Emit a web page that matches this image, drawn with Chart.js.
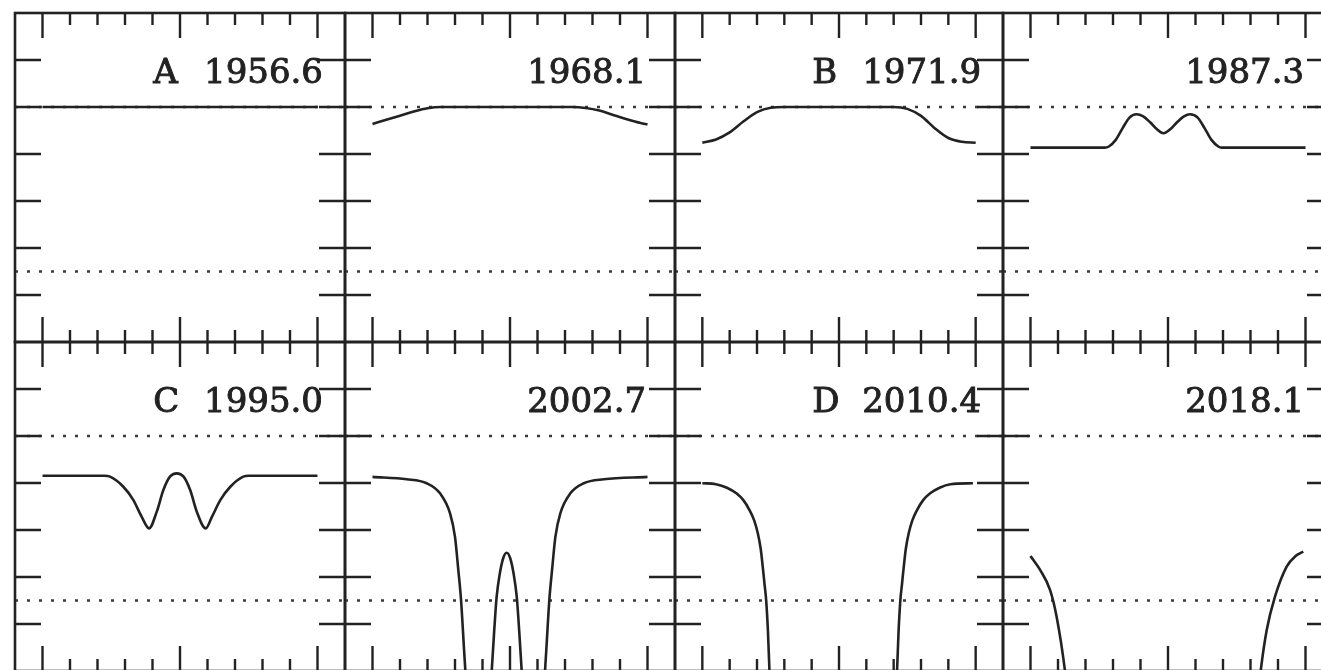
<!DOCTYPE html>
<html>
<head>
<meta charset="utf-8">
<script src="https://cdn.jsdelivr.net/npm/chart.js@4"></script>
<style>
  html, body { margin: 0; padding: 0; background: #fff; overflow: hidden; }
  #wrap { position: relative; width: 1321px; height: 670px; overflow: hidden; background: #fff; }
  #wrap canvas { position: absolute; }
</style>
</head>
<body>
<div id="wrap"></div>
<script>
// tick marks and dotted reference levels (same on every panel)
const xMajor = [-1, 0, 1];
const xMinor = [-0.8, -0.6, -0.4, -0.2, 0.2, 0.4, 0.6, 0.8];
const yTicks = [0.2, 0.4, 0.6, 0.8, 1.0, 1.2];
const refLevels = [1.0, 0.3];

const letters = ['A', '', 'B', '', 'C', '', 'D', ''];
const years = ['1956.6', '1968.1', '1971.9', '1987.3', '1995.0', '2002.7', '2010.4', '2018.1'];

// curves (null = curve leaves the panel)
const x1956 = [-1.0, -0.5, 0.0, 0.5, 1.0];
const y1956 = [1.0, 1.0, 1.0, 1.0, 1.0];

const x1968 = [-1.0, -0.9, -0.8, -0.7, -0.6, -0.5, 0.0, 0.45, 0.55, 0.65, 0.75, 0.85, 0.95, 1.0];
const y1968 = [0.928, 0.946, 0.963, 0.981, 0.995, 1.0, 1.0, 1.0, 0.996, 0.985, 0.966, 0.948, 0.932, 0.926];

const x1971 = [-1.0, -0.9, -0.8, -0.7, -0.6, -0.5, -0.4, 0.0, 0.4, 0.5, 0.6, 0.7, 0.8, 0.9, 1.0];
const y1971 = [0.848, 0.862, 0.892, 0.938, 0.978, 0.997, 1.0, 1.0, 1.0, 0.992, 0.962, 0.91, 0.868, 0.852, 0.848];

const x1987 = [-1.0, -0.46, -0.43, -0.38, -0.33, -0.28, -0.23, -0.18, -0.13, -0.08, -0.034, 0.016, 0.066, 0.116, 0.16, 0.216, 0.266, 0.316, 0.366, 0.39, 1.0];
const y1987 = [0.827, 0.827, 0.832, 0.86, 0.91, 0.955, 0.969, 0.96, 0.935, 0.905, 0.888, 0.905, 0.935, 0.96, 0.969, 0.955, 0.91, 0.86, 0.832, 0.827, 0.827];

const x1995 = [-1.0, -0.55, -0.509, -0.412, -0.34, -0.279, -0.225, -0.169, -0.121, -0.073, -0.024, 0.026, 0.074, 0.122, 0.187, 0.233, 0.294, 0.366, 0.46, 0.5, 1.0];
const y1995 = [0.831, 0.831, 0.827, 0.784, 0.728, 0.657, 0.607, 0.678, 0.77, 0.827, 0.841, 0.827, 0.77, 0.678, 0.607, 0.657, 0.728, 0.784, 0.827, 0.831, 0.831];

const x2002 = [-1.0, -0.752, -0.606, -0.509, -0.436, -0.4, -0.376, -0.356, -0.334, -0.325, -0.31, -0.23,
               -0.15, -0.133, -0.115, -0.097, -0.074, -0.049, -0.024, 0.001, 0.026, 0.049, 0.067, 0.085, 0.1, 0.17,
               0.24, 0.255, 0.264, 0.286, 0.306, 0.33, 0.366, 0.439, 0.536, 0.682, 1.0];
const y2002 = [0.826, 0.816, 0.799, 0.756, 0.671, 0.571, 0.43, 0.302, 0.089, 0.004, -0.15, null,
               -0.15, 0.0, 0.17, 0.316, 0.415, 0.481, 0.503, 0.481, 0.415, 0.316, 0.17, 0.0, -0.15, null,
               -0.15, 0.004, 0.089, 0.302, 0.43, 0.571, 0.671, 0.756, 0.799, 0.816, 0.826];

const x2010 = [-1.0, -0.9, -0.82, -0.751, -0.7, -0.655, -0.62, -0.594, -0.573, -0.558, -0.545, -0.533, -0.52, -0.509, -0.5, 0.0,
               0.416, 0.425, 0.436, 0.449, 0.461, 0.474, 0.489, 0.51, 0.536, 0.571, 0.616, 0.667, 0.736, 0.816, 0.98];
const y2010 = [0.799, 0.795, 0.78, 0.756, 0.727, 0.685, 0.64, 0.586, 0.52, 0.444, 0.37, 0.302, 0.17, 0.004, -0.1, null,
               -0.1, 0.004, 0.17, 0.302, 0.37, 0.444, 0.52, 0.586, 0.64, 0.685, 0.727, 0.756, 0.78, 0.795, 0.799];

const x2018 = [-1.0, -0.93, -0.858, -0.81, -0.749, -0.74, 0.0,
               0.665, 0.674, 0.718, 0.778, 0.863, 0.93, 0.984];
const y2018 = [0.489, 0.43, 0.345, 0.231, 0.0, -0.05, null,
               -0.05, 0.0, 0.174, 0.316, 0.444, 0.49, 0.508];

const curvesX = [x1956, x1968, x1971, x1987, x1995, x2002, x2010, x2018];
const curvesY = [y1956, y1968, y1971, y1987, y1995, y2002, y2010, y2018];

// panel placement on the page
const colLeft = [15, 345, 675, 1003];
const colWidth = [330, 330, 328, 330];
const rowTop = [13, 342];
const rowHeight = 329;
const pad = 3;

const ink = '#222';

function toPoints(xs, ys) {
  return xs.map((x, i) => ({ x: x, y: ys[i] }));
}

// frame, inward ticks and the title, all placed through the chart's scales
const framePlugin = {
  id: 'frame',
  afterDraw(chart, args, opts) {
    const ctx = chart.ctx;
    const a = chart.chartArea;
    const xs = chart.scales.x;
    const ys = chart.scales.y;
    ctx.save();
    ctx.strokeStyle = ink;
    ctx.lineWidth = 2.6;
    ctx.strokeRect(a.left, a.top, a.right - a.left, a.bottom - a.top);

    ctx.lineWidth = 2.4;
    ctx.beginPath();
    xMajor.forEach(v => {
      const p = xs.getPixelForValue(v);
      ctx.moveTo(p, a.top); ctx.lineTo(p, a.top + 25);
      ctx.moveTo(p, a.bottom); ctx.lineTo(p, a.bottom - 25);
    });
    xMinor.forEach(v => {
      const p = xs.getPixelForValue(v);
      ctx.moveTo(p, a.top); ctx.lineTo(p, a.top + 12);
      ctx.moveTo(p, a.bottom); ctx.lineTo(p, a.bottom - 12);
    });
    yTicks.forEach(v => {
      const p = ys.getPixelForValue(v);
      ctx.moveTo(a.left, p); ctx.lineTo(a.left + 26, p);
      ctx.moveTo(a.right, p); ctx.lineTo(a.right - 26, p);
    });
    ctx.stroke();

    // title: optional letter on the left, year right aligned
    const base = ys.getPixelForValue(1.101);
    ctx.fillStyle = ink;
    ctx.lineWidth = 0.9;
    ctx.font = '34px "DejaVu Serif"';
    ctx.textBaseline = 'alphabetic';
    const yr = xs.getPixelForValue(opts.letter ? 1.04 : 0.99);
    ctx.textAlign = 'right';
    ctx.fillText(opts.year, yr, base);
    ctx.strokeText(opts.year, yr, base);
    if (opts.letter) {
      const lx = xs.getPixelForValue(-0.195);
      ctx.textAlign = 'left';
      ctx.fillText(opts.letter, lx, base);
      ctx.strokeText(opts.letter, lx, base);
    }
    ctx.restore();
  }
};

const wrap = document.getElementById('wrap');

for (let k = 0; k < 8; k++) {
  const col = k % 4;
  const row = Math.floor(k / 4);
  const w = colWidth[col] + 2 * pad;
  const h = rowHeight + 2 * pad;

  const cv = document.createElement('canvas');
  cv.width = w;
  cv.height = h;
  cv.style.left = (colLeft[col] - pad) + 'px';
  cv.style.top = (rowTop[row] - pad) + 'px';
  cv.style.width = w + 'px';
  cv.style.height = h + 'px';
  wrap.appendChild(cv);

  const datasets = [{
    data: toPoints(curvesX[k], curvesY[k]),
    borderColor: ink,
    borderWidth: 2.6,
    cubicInterpolationMode: 'monotone',
    spanGaps: false,
    fill: false
  }];
  refLevels.forEach(lv => {
    datasets.push({
      data: [{ x: -1.2, y: lv }, { x: 1.2, y: lv }],
      borderColor: '#3a3a3a',
      borderWidth: 2.6,
      borderDash: [3, 9],
      fill: false
    });
  });

  new Chart(cv, {
    type: 'line',
    data: { datasets: datasets },
    options: {
      responsive: false,
      animation: false,
      devicePixelRatio: 1,
      layout: { padding: pad },
      elements: { point: { radius: 0 } },
      scales: {
        x: { type: 'linear', min: -1.2, max: 1.2, display: false },
        y: { type: 'linear', min: 0, max: 1.4, display: false }
      },
      plugins: {
        legend: { display: false },
        tooltip: { enabled: false },
        frame: { letter: letters[k], year: years[k] }
      }
    },
    plugins: [framePlugin]
  });
}
</script>
</body>
</html>
